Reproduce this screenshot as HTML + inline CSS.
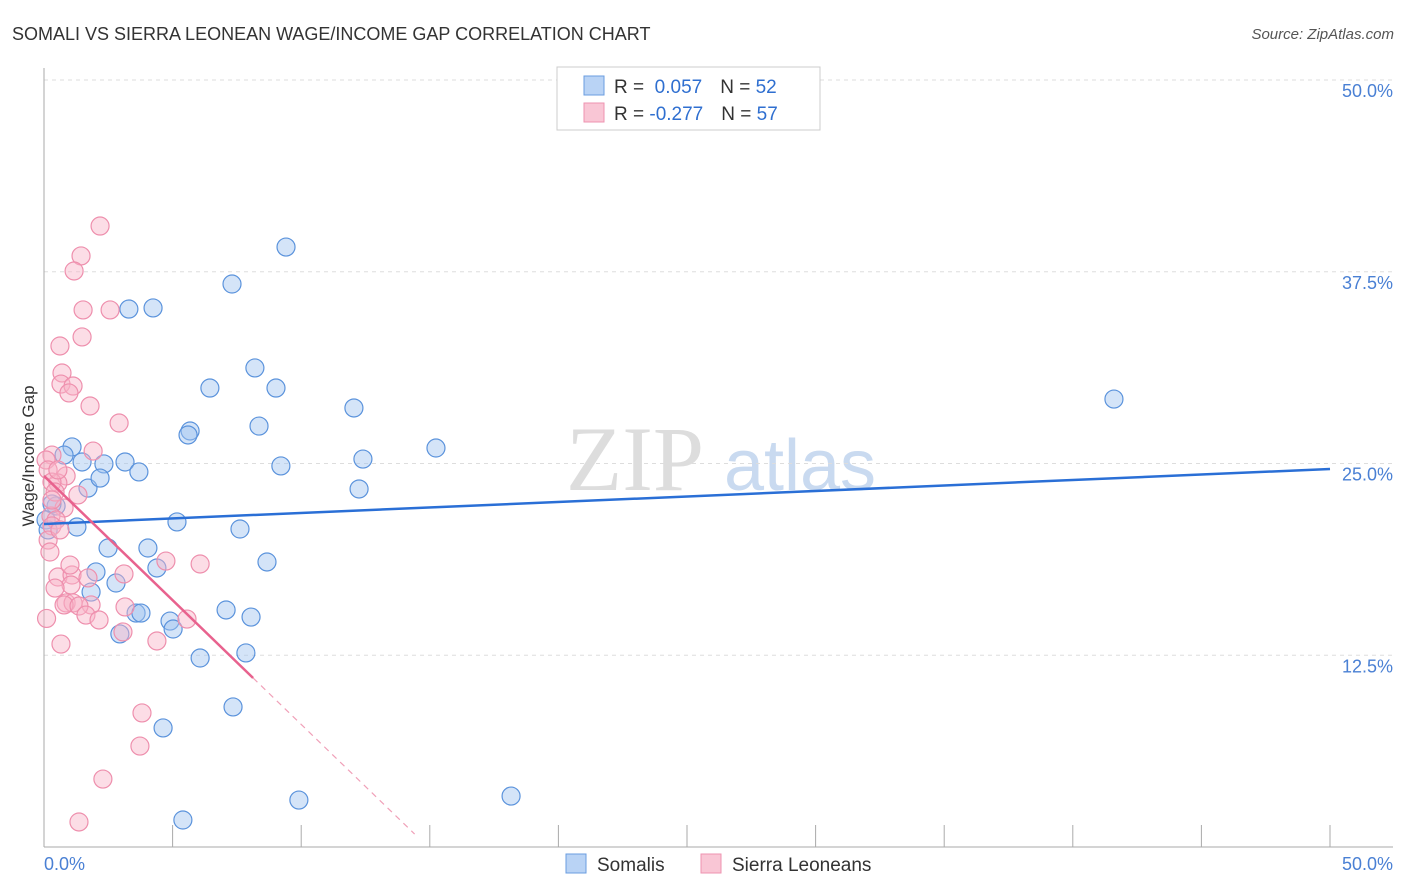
<!DOCTYPE html>
<html><head><meta charset="utf-8"><style>
body{margin:0;background:#fff;font-family:"Liberation Sans",sans-serif;}
svg{display:block}
</style></head><body>
<svg id="chart" width="1406" height="892">
<text x="12" y="40" font-size="18" fill="#333">SOMALI VS SIERRA LEONEAN WAGE/INCOME GAP CORRELATION CHART</text>
<text x="1394" y="39" font-size="15" fill="#555" font-style="italic" text-anchor="end">Source: ZipAtlas.com</text>
<text transform="translate(34,456) rotate(-90)" font-size="17" fill="#333" text-anchor="middle">Wage/Income Gap</text>
<g>
<text x="635" y="490" font-size="92" fill="#ddd" font-family="Liberation Serif,serif" text-anchor="middle">ZIP</text>
<text x="800" y="490" font-size="72" fill="#c9daf0" text-anchor="middle">atlas</text>
</g>
<g id="grid"></g>
<g id="axes"></g>
<g id="marks"></g>
<g>
<rect x="557" y="67" width="263" height="63" fill="#fff" stroke="#ccc"/>
<rect x="584" y="76" width="20" height="19" fill="#b9d3f5" stroke="#6a9de0"/>
<rect x="584" y="103" width="20" height="19" fill="#f9c6d5" stroke="#ee93b0"/>
<text x="614" y="93" font-size="19" fill="#333">R = <tspan fill="#2f6fd0">&#160;0.057</tspan><tspan dx="18" fill="#333">N = </tspan><tspan fill="#2f6fd0">52</tspan></text>
<text x="614" y="120" font-size="19" fill="#333">R = <tspan fill="#2f6fd0">-0.277</tspan><tspan dx="18" fill="#333">N = </tspan><tspan fill="#2f6fd0">57</tspan></text>
</g>
<g>
<rect x="566" y="854" width="20" height="19" fill="#b9d3f5" stroke="#6a9de0"/>
<text x="597" y="871" font-size="19" fill="#333">Somalis</text>
<rect x="701" y="854" width="20" height="19" fill="#f9c6d5" stroke="#ee93b0"/>
<text x="732" y="871" font-size="19" fill="#333">Sierra Leoneans</text>
</g>
</svg>
<script>
const yTicks=[12.5,25,37.5,50];
const yTickLabels=["12.5%","25.0%","37.5%","50.0%"];
const xTickLabels=["0.0%","50.0%"];
const somaliX=[9.41,7.31,3.30,4.24,8.20,6.45,9.02,12.05,41.60,8.36,5.68,5.60,1.09,15.24,0.78,1.48,2.33,3.15,3.69,9.21,12.40,1.71,2.18,12.25,0.47,0.31,5.17,1.28,7.62,2.49,4.04,4.39,8.67,2.02,2.80,1.83,7.08,8.05,3.58,3.77,4.90,5.02,2.95,7.85,6.07,7.35,4.63,9.91,18.16,5.40,0.08,0.16];
const somaliY=[39.11,36.70,35.07,35.14,31.23,29.92,29.92,28.62,29.20,27.44,27.12,26.86,26.08,26.01,25.55,25.10,24.97,25.10,24.45,24.84,25.29,23.40,24.05,23.34,22.23,22.36,21.19,20.86,20.73,19.49,19.49,18.19,18.58,17.93,17.21,16.62,15.45,14.99,15.25,15.25,14.73,14.21,13.89,12.65,12.32,9.13,7.76,3.06,3.32,1.76,21.32,20.67];
const sierraX=[2.18,1.44,1.17,1.52,2.57,1.48,0.62,0.70,0.66,1.13,0.97,1.79,2.92,1.91,0.31,0.08,0.16,0.86,0.54,0.31,1.32,0.43,0.78,0.27,0.47,0.31,0.16,0.23,4.74,6.07,0.54,1.09,1.71,3.11,1.05,0.86,1.13,1.83,0.78,1.36,3.15,1.63,2.14,5.56,3.07,0.66,4.39,3.81,3.73,2.29,1.36,0.54,0.31,1.01,0.62,0.43,0.10];
const sierraY=[40.48,38.53,37.55,35.01,35.01,33.25,32.66,30.90,30.18,30.05,29.60,28.75,27.64,25.81,25.55,25.23,24.58,24.19,23.73,23.79,22.95,23.14,22.10,21.58,21.32,20.93,20.01,19.23,18.64,18.45,17.60,17.73,17.54,17.80,17.08,15.91,15.91,15.78,15.78,15.71,15.65,15.12,14.80,14.86,14.02,13.23,13.43,8.74,6.58,4.43,1.63,24.58,22.62,18.38,20.67,16.88,14.9];
const somaliTrend=[21.06,24.64];
const sierraTrend=[24.19,-1.62];
const NS="http://www.w3.org/2000/svg";
const X=v=>44+v*25.72, Y=v=>847-v*15.34;
function mk(t,a,p){const e=document.createElementNS(NS,t);for(const k in a)e.setAttribute(k,a[k]);p.appendChild(e);return e;}
const grid=document.getElementById('grid'),axes=document.getElementById('axes'),marks=document.getElementById('marks');
yTicks.forEach((t,i)=>{
 const l=mk('line',{x1:44,x2:1393,y1:Y(t),y2:Y(t),stroke:'#ddd','stroke-dasharray':'4,4'},grid);
 
 
 const tx=mk('text',{x:1393,y:Y(t)+17,'font-size':18,fill:'#4a80d4','text-anchor':'end'},axes);
 tx.textContent=yTickLabels[i];
 
 
});
const ax=mk('line',{x1:44,x2:44,y1:68,y2:847,stroke:'#aaa'},axes);


const bx=mk('line',{x1:44,x2:1393,y1:847,y2:847,stroke:'#aaa'},axes);


for(let i=0;i<=10;i++){const t=mk('line',{x1:X(i*5),x2:X(i*5),y1:825,y2:847,stroke:'#aaa'},axes);
 
 }
[[0,'start',44],[50,'end',1393]].forEach((d,i)=>{const t=mk('text',{x:d[2],y:870,'font-size':18,fill:'#4a80d4','text-anchor':d[1]},axes);
 t.textContent=xTickLabels[i];
 
 });
somaliX.forEach((x,i)=>{const c=mk('circle',{cx:X(x),cy:Y(somaliY[i]),r:9,fill:'rgba(160,196,240,0.45)',stroke:'#5b93dc','stroke-width':1.2},marks);
 
 });
sierraX.forEach((x,i)=>{const c=mk('circle',{cx:X(x),cy:Y(sierraY[i]),r:9,fill:'rgba(248,180,200,0.45)',stroke:'#ee8fad','stroke-width':1.2},marks);
 
 });
const bt=mk('line',{x1:X(0),y1:Y(somaliTrend[0]),x2:X(50),y2:Y(somaliTrend[1]),stroke:'#2a6fd6','stroke-width':2.5},marks);


const xe=8.13, xz=-sierraTrend[0]/sierraTrend[1];
const pt=mk('line',{x1:X(0),y1:Y(sierraTrend[0]),x2:X(xe),y2:Y(sierraTrend[0]+sierraTrend[1]*xe),stroke:'#e8628e','stroke-width':2.5},marks);


const pd=mk('line',{x1:X(xe),y1:Y(sierraTrend[0]+sierraTrend[1]*xe),x2:X(xz*0.965),y2:Y(sierraTrend[0]+sierraTrend[1]*xz*0.965),stroke:'#f0a0b8','stroke-width':1.2,'stroke-dasharray':'6,5'},marks);


</script>
</body></html>
